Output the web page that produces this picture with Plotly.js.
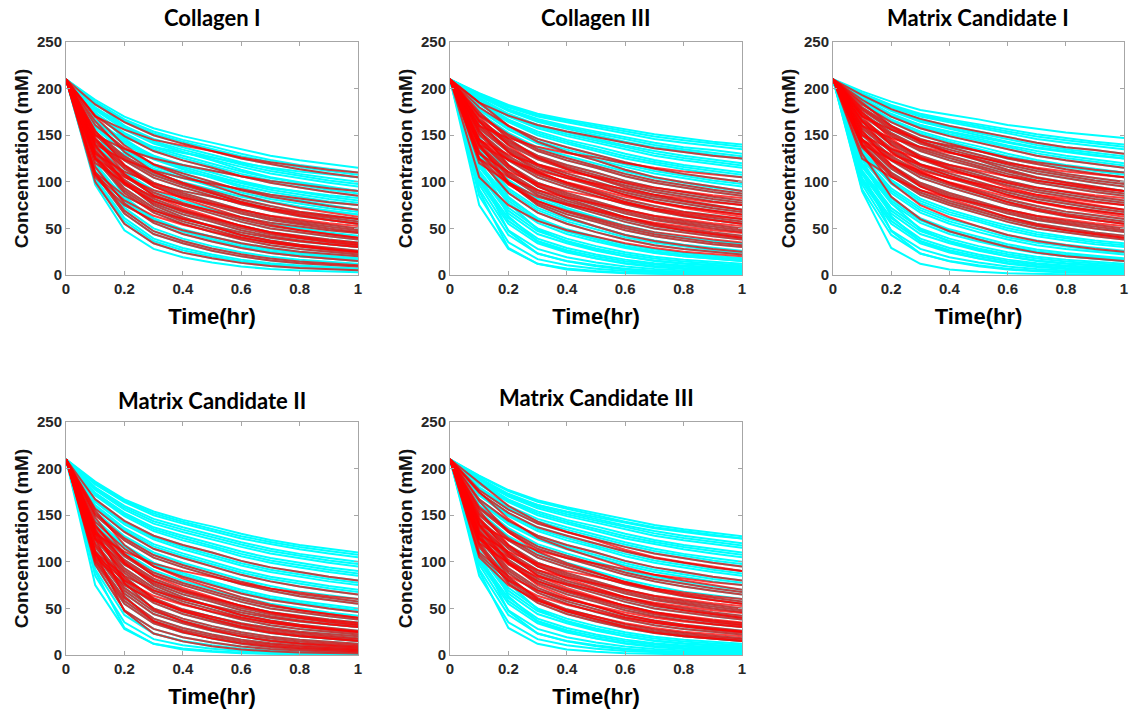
<!DOCTYPE html>
<html>
<head>
<meta charset="utf-8">
<script src="https://cdn.plot.ly/plotly-3.0.1.min.js"></script>
<style>html,body{margin:0;padding:0;background:#fff;}#chart{width:1131px;height:715px;}</style>
</head>
<body>
<div id="chart"></div>
<script>
// Sampling times (hr)
const timeHr = [0, 0.1, 0.2, 0.3, 0.4, 0.5, 0.6, 0.7, 0.8, 0.9, 1.0];

// Concentration curves (mM), one row per curve shape
const curveLibrary = [
  [210,75,28,12,7,4.3,2.5,1.5,1,0.7,0.5],            // 0
  [210,85,35,17,10.5,6.8,4.2,2.7,1.9,1.4,1],         // 1
  [210,92,43,23,15,10.4,6.8,4.6,3.4,2.6,2],          // 2
  [210,97,48,28,19,13.3,9.1,6.4,4.9,3.8,3],          // 3
  [210,100,55,34,24,18,13,9.6,7.6,6.1,5],            // 4
  [210,104,61,39,29,22,16.5,12.7,10.2,8.4,7],        // 5
  [210,108,66,44,34,26,20,15.6,12.7,10.7,9],         // 6
  [210,112,72,50,39,31,24.5,19.6,16.4,14,12],        // 7
  [210,116,77,56,44,36,29,23.5,20,17.3,15],          // 8
  [210,120,82,61,49,41,33,27.4,23.5,20.6,18],        // 9
  [210,124,88,67,55,46,38,32,28,24.8,22],            // 10
  [210,128,93,72,60,52,43,37,32.5,29,26],            // 11
  [210,131,98,77,65,57,48,41.5,37,33,30],            // 12
  [210,134,102,82,70,61,53,46,41,37,34],             // 13
  [210,137,106,86,75,66,57,50,45.5,41.6,38],         // 14
  [210,140,110,91,79.5,70.5,62,55,50,45.7,42],       // 15
  [210,143,114,95,84,75,66,59,54,49.8,46],           // 16
  [210,146,118,99,88,79,70,63,58,54,50],             // 17
  [210,150,123,104.5,94,85,76,69,63,59,55],          // 18
  [210,154,127.5,110,99,90,81,74,68,64,60],          // 19
  [210,157,132,114,104,95,86,79,73.5,69,65],         // 20
  [210,161,136,119,109,100,91,84,79,74,70],          // 21
  [210,164,140,124,113.5,105,96,89,84,79,75],        // 22
  [210,167,144,128,118,110,101,94,89,84,80],         // 23
  [210,171,149,133,123,115,106,99,94,89,85],         // 24
  [210,174,152.5,137,128,119.5,111,104,99,94,90],    // 25
  [210,177,156,141,132,124,116,109,104,99,95],       // 26
  [210,180,160,146,137,129,121,114,108.5,104,100],   // 27
  [210,183,164,150,141,133,125,119,113.5,109,105],   // 28
  [210,186,167,154,145,138,130,123.5,118,114,110],   // 29
  [210,188,170,157.5,149,142,135,128,123,119,115],   // 30
  [210,190,173,161,153,146,139,133,128,124,120],     // 31
  [210,192,176,164.5,157,150,143,137,133,129,125],   // 32
  [210,193,178,167.5,160,154,147.5,142,137,134,130], // 33
  [210,194,180,170,164,158,151.5,146,142,138.5,135], // 34
  [210,195,182.5,173,167,161.5,156,151,147,143,140], // 35
  [210,197,186,177,172,167,161,157,153,150,147],     // 36
  [210,105,75,58,48,41,34,29,25,22.5,20],            // 37
  [210,110,85,69,60,52.5,45.5,40,36,33,30],          // 38
  [210,120,99,84,76,69,62,56,52,48,45],              // 39
  [210,130,111,98,90,84,77,71,67,63,60],             // 40
  [210,140,123.5,112,104,98,92,86,82,78,75],         // 41
  [210,150,135,125,118,112,106,101,97,93,90],        // 42
  [210,160,147,137.5,131,126,120,115,111,108,105],   // 43
  [210,130,84,60,47,38,30,24,20,17.5,15],            // 44
  [210,140,99,75,62,52,43,36.5,32,28,25],            // 45
  [210,155,118,95,82,72,62,54,48,44,40],             // 46
  [210,165,132,111,98.5,88,78,70,64,59,55],          // 47
  [210,175,146,126,114,104,94,86,80,75,70],          // 48
  [210,185,160,143,132,123,113,105,99.5,95,90],      // 49
  [210,110,47,23,14.6,9.5,5.9,3.9,2.7,2,1.5],        // 50
  [210,125,63,36,25,17.6,12,8.5,6.5,5.1,4],          // 51
  [210,135,77,49,36,27,20,15,12,9.7,8],              // 52
  [210,90,29,12,6,3.5,1.9,1,0.7,0.45,0.3],           // 53
  [210,145,123.5,109,99.5,92,84,78,73,69,65],        // 54
  [210,125,97,79,69,60.5,52.6,46,42,38,35],          // 55
  [210,170,156,145,139,133,126,121,117,113,110],     // 56
  [210,185,171,161,154,148,142,136,132,128,125],     // 57
  [210,102,58,36.5,26.5,20,14.8,11.2,8.9,7.3,6],                 // 58
  [210,110,69,47,36.5,28.5,22.3,17.6,14.6,12.4,10.5],            // 59
  [210,118,79.5,58.5,46.5,38.5,31,25.5,21.8,19,16.5],            // 60
  [210,126,90.5,69.5,57.5,49,40.5,34.5,30.3,26.9,24],            // 61
  [210,132.5,100,79.5,67.5,59,50.5,43.8,39,35,32],               // 62
  [210,138.5,108,88.5,77.3,68.3,59.5,52.5,47.8,43.7,40],         // 63
  [210,144.5,116,97,86,77,68,61,56,51.9,48],                     // 64
  [210,152,125.3,107.3,96.5,87.5,78.5,71.5,65.5,61.5,57.5],      // 65
  [210,159,134,116.5,106.5,97.5,88.5,81.5,76.3,71.5,67.5],       // 66
  [210,165.5,142,126,115.8,107.5,98.5,91.5,86.5,81.5,77.5],      // 67
  [210,172.5,150.8,135,125.5,117.3,108.5,101.5,96.5,91.5,87.5],  // 68
  [210,178.5,158,143.5,134.5,126.5,118.5,111.5,106.3,101.5,97.5],// 69
  [210,184.5,165.5,152,143,135.5,127.5,121.3,115.8,111.5,107.5], // 70
  [210,189,171.5,159.3,151,144,137,130.5,125.5,121.5,117.5],     // 71
  [210,192.5,177,166,158.5,152,145.3,139.5,135,131.5,127.5],     // 72
  [210,194.5,181.3,171.5,165.5,159.8,153.8,148.5,144.5,140.8,137.5], // 73
  [210,107.5,80,63.5,54,46.8,39.8,34.5,30.5,27.8,25],            // 74
  [210,125,105,91,83,76.5,69.5,63.5,59.5,55.5,52.5],             // 75
  [210,145,129.3,118.5,111,105,99,93.5,89.5,85.5,82.5],          // 76
  [210,147.5,108.5,85,72,62,52.5,45.3,40,36,32.5],               // 77
  [210,170,139,118.5,106.3,96,86,78,72,67,62.5]                  // 78
];

// Panel titles
const panelTitles = ['Collagen I', 'Collagen III', 'Matrix Candidate I', 'Matrix Candidate II', 'Matrix Candidate III'];

// Which curves are drawn in cyan and red in each panel
const collagenICyan = [3,4,5,6,7,8,9,10,11,12,13,14,15,16,17,18,19,20,21,22,23,24,25,26,27,28,29,30,37,38,39,40,41,42,43,44,45,47,54,55,48,49,58,59,60,61,62,63,64,65,66,67,68,69,70,76];
const collagenIRed = [4,6,8,10,37,38,12,55,14,46,39,16,17,47,18,40,19,21,41,24,42,28,56,45,11,13,64,65,74,62,75,61,63,77,78,59];
const collagenIIICyan = [53,0,1,2,3,4,50,51,5,6,7,52,8,9,10,11,12,13,14,15,16,17,18,19,20,21,22,23,24,25,26,27,28,29,30,31,32,33,34,35,44,45,46,47,48,49,57,58,59,60,61,62,63,64,65,66,67,68,69,70,71,72,73,77];
const collagenIIIRed = [37,10,45,12,55,14,46,15,39,16,17,47,18,40,19,54,20,48,21,41,22,23,24,49,27,43,57,64,65,66,67,75,76,78,63,62,68];
const matrixICyan = [53,2,3,4,50,51,5,52,6,7,44,8,9,10,11,12,13,14,15,16,17,18,19,20,21,22,23,24,25,26,27,28,29,30,31,32,33,34,35,36,57,56,49,58,59,60,61,62,63,64,65,66,67,68,69,70,71,72,73];
const matrixIRed = [44,45,14,46,15,16,17,47,18,19,54,20,48,21,41,22,23,24,25,49,42,26,27,43,28,56,30,33,64,65,66,67,68,69,76,78,75,63];
const matrixIICyan = [0,1,2,3,53,50,4,51,5,6,52,7,8,44,9,10,37,11,45,12,13,14,15,16,17,18,19,20,21,22,23,24,25,26,27,28,29,55,38,58,59,60,61,62,63,64,65,66,67,68,69,70];
const matrixIIRed = [50,3,4,51,5,6,52,7,8,44,9,37,10,45,11,12,38,13,55,14,46,16,18,40,20,23,58,59,60,61,62,63,74,77,65];
const matrixIIICyan = [53,1,2,3,50,4,51,5,6,52,7,8,44,9,10,11,12,13,14,15,16,17,18,19,20,21,22,23,24,25,26,27,28,29,30,31,32,57,58,59,60,61,62,63,64,65,66,67,68,69,70,71,72];
const matrixIIIRed = [8,44,9,37,10,45,11,12,38,13,55,14,46,15,39,16,17,47,18,40,20,48,41,23,25,49,26,61,62,63,64,74,75,77,65,60,66];

const panelCyan = [collagenICyan, collagenIIICyan, matrixICyan, matrixIICyan, matrixIIICyan];
const panelRed = [collagenIRed, collagenIIIRed, matrixIRed, matrixIIRed, matrixIIIRed];

const xTicks = [0, 0.2, 0.4, 0.6, 0.8, 1];
const yTicks = [0, 50, 100, 150, 200, 250];

// ---- layout geometry (pixels in the 1131x715 page) ----
const W = 1131, H = 715;
const boxes = [
  {l: 66, r: 358, t: 42, b: 275, ty: 18},
  {l: 450, r: 742, t: 42, b: 275, ty: 18},
  {l: 833, r: 1124, t: 42, b: 275, ty: 18},
  {l: 66, r: 358, t: 422, b: 655, ty: 400},
  {l: 450, r: 742, t: 422, b: 655, ty: 397}
];

const traces = [];
const layout = {
  width: W, height: H,
  margin: {l: 0, r: 0, t: 0, b: 0},
  paper_bgcolor: '#ffffff', plot_bgcolor: '#ffffff',
  showlegend: false,
  annotations: []
};

const axisColor = '#a6a6a6';
const tickFont = {family: 'Liberation Sans, Arial, sans-serif', size: 15, color: '#262626', weight: 'bold'};

boxes.forEach((b, i) => {
  const n = i + 1;
  const xa = 'x' + (n === 1 ? '' : n), ya = 'y' + (n === 1 ? '' : n);
  const common = {
    showgrid: false, zeroline: false, showline: true, mirror: 'ticks',
    linecolor: axisColor, linewidth: 1, ticks: 'inside', ticklen: 4,
    tickcolor: axisColor, tickwidth: 1, tickfont: tickFont, fixedrange: true
  };
  layout['xaxis' + (n === 1 ? '' : n)] = Object.assign({}, common, {
    domain: [b.l / W, b.r / W], anchor: ya, range: [0, 1],
    tickvals: xTicks, ticktext: xTicks.map(String),
    title: {text: 'Time(hr)', font: {family: 'Liberation Sans, Arial, sans-serif', size: 22, color: '#000', weight: 'bold'}, standoff: 12}
  });
  layout['yaxis' + (n === 1 ? '' : n)] = Object.assign({}, common, {
    domain: [1 - b.b / H, 1 - b.t / H], anchor: xa, range: [0, 250],
    tickvals: yTicks, ticktext: yTicks.map(String),
    title: {text: 'Concentration (mM)', font: {family: 'Liberation Sans, Arial, sans-serif', size: 19, color: '#111', weight: 'bold'}, standoff: 3}
  });
  layout.annotations.push({
    text: panelTitles[i], xref: 'paper', yref: 'paper',
    x: (b.l + b.r) / 2 / W, y: 1 - b.ty / H, xanchor: 'center', yanchor: 'middle',
    showarrow: false,
    font: {family: 'Lato, Open Sans, sans-serif', size: 22, color: '#000', weight: 'bold'}
  });
  panelCyan[i].forEach(k => {
    traces.push({x: timeHr, y: curveLibrary[k], xaxis: xa, yaxis: ya, type: 'scatter', mode: 'lines',
      line: {color: '#00ffff', width: 2.0}, hoverinfo: 'skip', showlegend: false});
  });
  panelRed[i].forEach(k => {
    traces.push({x: timeHr, y: curveLibrary[k], xaxis: xa, yaxis: ya, type: 'scatter', mode: 'lines',
      line: {color: 'rgba(255,0,0,0.75)', width: 2.0}, hoverinfo: 'skip', showlegend: false});
  });
});

Plotly.newPlot('chart', traces, layout, {displayModeBar: false, staticPlot: true});
</script>
</body>
</html>
